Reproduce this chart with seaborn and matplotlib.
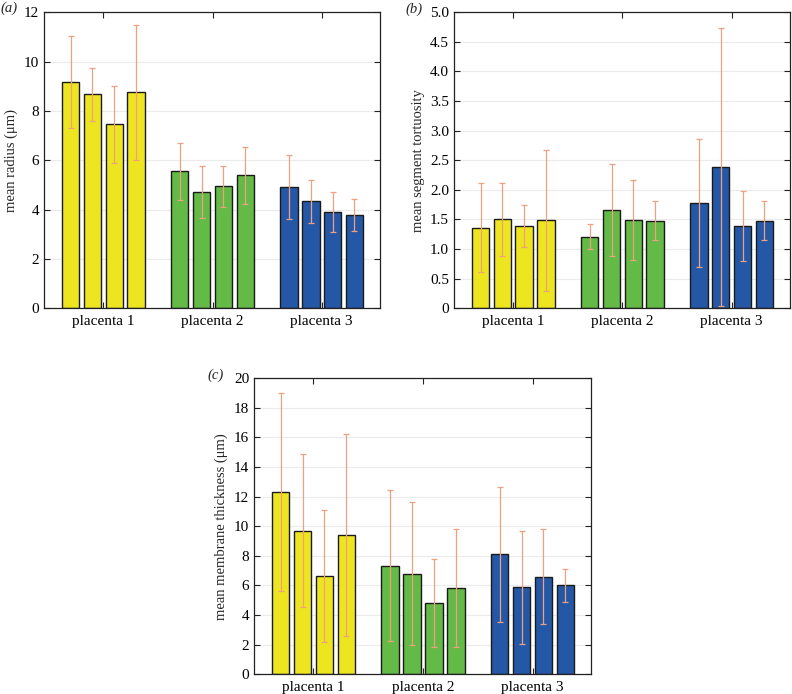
import numpy as np
import pandas as pd
import matplotlib
matplotlib.use('Agg')
import matplotlib.pyplot as plt
import seaborn as sns

sns.set_style('white')
plt.rcParams['font.family'] = ['Liberation Serif', 'DejaVu Serif']

groups = ['placenta 1', 'placenta 2', 'placenta 3']
samples = ['s1', 's2', 's3', 's4']
group_colors = ['#EDE520', '#63BA46', '#2457A6']
err_color = '#F0A080'

# panel (a): mean radius (um)
radius_mean = [9.18, 8.67, 7.46, 8.76, 5.55, 4.70, 4.95, 5.39, 4.92, 4.34, 3.89, 3.78]
radius_sd = [1.87, 1.08, 1.57, 2.74, 1.17, 1.05, 0.83, 1.16, 1.29, 0.87, 0.81, 0.66]

# panel (b): mean segment tortuosity
tort_mean = [1.36, 1.50, 1.39, 1.49, 1.21, 1.655, 1.49, 1.475, 1.785, 2.39, 1.39, 1.475]
tort_sd = [0.75, 0.62, 0.35, 1.19, 0.21, 0.78, 0.68, 0.33, 1.08, 2.35, 0.59, 0.33]

# panel (c): mean membrane thickness (um)
thick_mean = [12.32, 9.71, 6.62, 9.39, 7.34, 6.80, 4.82, 5.83, 8.11, 5.88, 6.60, 6.01]
thick_sd = [6.66, 5.16, 4.46, 6.82, 5.08, 4.82, 2.98, 4.00, 4.55, 3.81, 3.23, 1.12]


def bar_panel(ax, means, sds, ylabel, yticks, yticklabels):
    df = pd.DataFrame({
        'placenta': np.repeat(groups, len(samples)),
        'sample': samples * len(groups),
        'value': means,
    })
    sns.barplot(data=df, x='placenta', y='value', hue='sample', order=groups,
                hue_order=samples, dodge=True, gap=0.2, errorbar=None,
                legend=False, ax=ax, edgecolor='#1a1a1a', linewidth=1.0)
    bars = sorted(ax.patches, key=lambda p: p.get_x())
    xs, hs = [], []
    for p in bars:
        cx = p.get_x() + p.get_width() / 2
        p.set_facecolor(group_colors[int(round(cx))])
        p.set_zorder(2)
        xs.append(cx)
        hs.append(p.get_height())
    ax.errorbar(xs, hs, yerr=sds, fmt='none', ecolor=err_color,
                elinewidth=0.9, capsize=2, capthick=0.9, zorder=3)
    ax.set_xlim(-0.543, 2.534)
    ax.set_ylim(yticks[0], yticks[-1])
    ax.set_yticks(yticks)
    ax.set_yticklabels(yticklabels)
    ax.set_xlabel('')
    ax.set_ylabel(ylabel, fontsize=10.5, labelpad=4)
    ax.yaxis.grid(True, color='#ebebeb', linewidth=0.8, zorder=0)
    ax.set_axisbelow(True)
    ax.tick_params(direction='in', length=4, width=0.8, colors='#222222',
                   labelsize=11, top=True, right=True, left=True, bottom=True,
                   labelcolor='black')
    ax.tick_params(axis='x', pad=5)
    for s in ax.spines.values():
        s.set_color('#222222')
        s.set_linewidth(0.9)


fig = plt.figure(figsize=(7.92, 6.94), dpi=100)
ax_a = fig.add_axes([0.0556, 0.5558, 0.4242, 0.4265])
ax_b = fig.add_axes([0.5732, 0.5558, 0.4242, 0.4265])
ax_c = fig.add_axes([0.3207, 0.0284, 0.4255, 0.4265])

bar_panel(ax_a, radius_mean, radius_sd, 'mean radius (\u03bcm)',
          [0, 2, 4, 6, 8, 10, 12], ['0', '2', '4', '6', '8', '10', '12'])
tort_ticks = [0, 0.5, 1.0, 1.5, 2.0, 2.5, 3.0, 3.5, 4.0, 4.5, 5.0]
bar_panel(ax_b, tort_mean, tort_sd, 'mean segment tortuosity',
          tort_ticks, ['0'] + ['%.1f' % t for t in tort_ticks[1:]])
bar_panel(ax_c, thick_mean, thick_sd, 'mean membrane thickness (\u03bcm)',
          list(range(0, 21, 2)), [str(t) for t in range(0, 21, 2)])

# panel letters
fig.text(0.001, 0.988, '(a)', fontsize=10.5, style='italic', ha='left', va='center')
fig.text(0.512, 0.987, '(b)', fontsize=10.5, style='italic', ha='left', va='center')
fig.text(0.262, 0.460, '(c)', fontsize=10.5, style='italic', ha='left', va='center')

fig.savefig('out.png', dpi=100)
